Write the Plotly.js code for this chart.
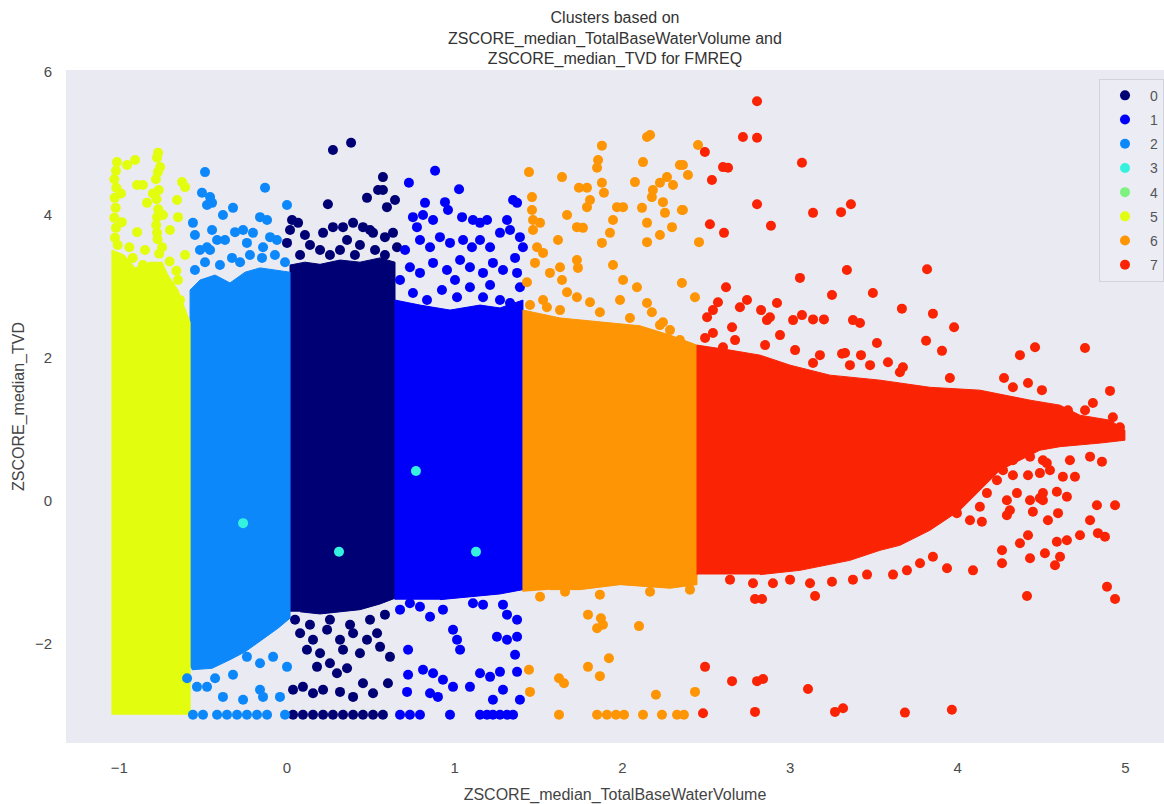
<!DOCTYPE html>
<html>
<head>
<meta charset="utf-8">
<script src="https://cdn.plot.ly/plotly-3.0.1.min.js"></script>
<style>
  html, body { margin: 0; padding: 0; background: #ffffff; }
  #chart { width: 1164px; height: 804px; }
</style>
</head>
<body>
<div id="chart"></div>
<script>
// Cluster labels and their colours
const clusterNames = ['0', '1', '2', '3', '4', '5', '6', '7'];
const clusterColors = ['#000075', '#0000fa', '#0c88fb', '#35f2df', '#7ef27e', '#e2fd0e', '#fd9505', '#fa2405'];

// Axis ticks
const xTicks = [-1, 0, 1, 2, 3, 4, 5];
const yTicks = [-2, 0, 2, 4, 6];

// Dense cores: outline of the region where points overlap into a solid mass
const core0x = [0.018, 0.018, 0.107, 0.197, 0.316, 0.435, 0.555, 0.644, 0.644, 0.555, 0.435, 0.316, 0.197, 0.078];
const core0y = [-1.55, 3.30, 3.34, 3.31, 3.37, 3.34, 3.40, 3.34, -1.36, -1.44, -1.52, -1.55, -1.58, -1.55];

const core1x = [0.644, 0.644, 0.793, 0.972, 1.151, 1.270, 1.407, 1.407, 1.270, 1.091, 0.912];
const core1y = [-1.38, 2.81, 2.74, 2.67, 2.74, 2.70, 2.81, -1.24, -1.30, -1.34, -1.38];

const core2x = [-0.578, -0.578, -0.519, -0.429, -0.340, -0.250, -0.161, -0.072, 0.018, 0.018, -0.054, -0.149, -0.250, -0.340, -0.447, -0.567];
const core2y = [-2.32, 2.95, 3.09, 3.16, 3.05, 3.20, 3.26, 3.23, 3.20, -1.64, -1.78, -1.94, -2.11, -2.22, -2.34, -2.36];

const core5x = [-1.044, -1.044, -0.972, -0.906, -0.817, -0.745, -0.710, -0.650, -0.578, -0.578];
const core5y = [-2.99, 3.51, 3.44, 3.26, 3.34, 3.34, 3.16, 2.95, 2.50, -2.99];

const core6x = [1.407, 1.407, 1.628, 1.866, 2.105, 2.284, 2.445, 2.445, 2.284, 1.986, 1.747, 1.568];
const core6y = [-1.27, 2.67, 2.56, 2.50, 2.45, 2.32, 2.18, -1.17, -1.22, -1.17, -1.24, -1.24];

const core7x = [2.445, 2.445, 2.642, 2.821, 3.000, 3.238, 3.536, 3.834, 4.132, 4.431, 4.610, 4.729, 4.908, 4.997,
                4.997, 4.848, 4.610, 4.490, 4.252, 4.132, 4.013, 3.834, 3.655, 3.536, 3.357, 3.059, 2.821];
const core7y = [-1.03, 2.18, 2.11, 2.04, 1.90, 1.76, 1.69, 1.59, 1.55, 1.41, 1.34, 1.20, 1.13, 0.99,
                0.85, 0.81, 0.76, 0.71, 0.43, 0.15, -0.13, -0.41, -0.62, -0.69, -0.83, -0.97, -1.03];

// Individual points outside the dense cores
const c0x = [0.274, 0.382, 0.244, 0.477, 0.543, 0.572, 0.596, 0.215, 0.274, 0.334,
             0.394, 0.453, 0.358, 0.495, 0.513, 0.644, 0.030, 0.066, 0.018, 0.000,
             0.632, 0.656, 0.572, 0.584, 0.137, 0.197, 0.435, 0.525, 0.316, 0.107,
             0.078, 0.256, 0.405, 0.584,
             0.078, 0.155, 0.239, 0.316, 0.394, 0.477, 0.537, 0.614, 0.119, 0.197,
             0.334, 0.435, 0.555, 0.179, 0.256, 0.298, 0.358, 0.036, 0.095, 0.155,
             0.215, 0.316, 0.394, 0.453, 0.513, 0.602, 0.048, 0.137, 0.256, 0.376,
             0.495, 0.584,
             0.036, 0.095, 0.155, 0.215, 0.274, 0.334, 0.394, 0.453, 0.513, 0.572];
const c0y = [4.91, 5.01, 4.15, 4.24, 4.35, 4.53, 4.11, 3.75, 3.83, 3.83,
             3.89, 3.83, 3.65, 3.79, 3.75, 4.21, 3.93, 3.89, 3.79, 3.61,
             3.75, 3.55, 4.35, 3.69, 3.58, 3.51, 3.58, 3.51, 3.51, 3.72,
             3.44, 3.44, 3.44, 3.44,
             -1.85, -1.94, -1.80, -1.94, -1.85, -1.94, -1.85, -2.18, -2.08, -2.13,
             -2.08, -2.13, -2.04, -2.32, -2.27, -2.41, -2.34, -2.64, -2.60, -2.69,
             -2.64, -2.67, -2.74, -2.55, -2.69, -2.55, -1.66, -1.73, -1.66, -1.73,
             -1.66, -1.59,
             -2.99, -2.99, -2.99, -2.99, -2.99, -2.99, -2.99, -2.99, -2.99, -2.99];

const c1x = [0.883, 0.727, 1.026, 0.823, 0.942, 0.960, 1.348, 1.372, 0.751, 0.811,
             0.871, 0.775, 1.044, 1.109, 1.151, 1.193, 1.312, 1.330, 1.389, 1.407,
             0.793, 0.853, 0.912, 0.972, 1.050, 1.103, 1.151, 1.211, 1.270, 0.733,
             0.793, 0.871, 0.954, 1.032, 1.091, 1.169, 1.228, 1.288, 1.372, 1.389,
             0.751, 0.835, 0.924, 1.014, 1.091, 1.169, 1.270, 1.330, 0.674, 1.002,
             1.211, 1.360, 0.704,
             0.674, 0.733, 0.793, 0.853, 0.930, 1.109, 1.169, 1.288, 1.312, 0.722,
             0.990, 1.014, 1.032, 1.252, 1.312, 1.372, 0.722, 0.811, 0.871, 0.930,
             0.990, 0.716, 0.853, 0.900, 1.091, 1.151, 1.211, 1.270, 1.288, 1.228,
             1.372, 1.389, 1.372, 1.360,
             0.674, 0.733, 0.793, 0.972, 1.151, 1.193, 1.228, 1.270, 1.312, 1.348];
const c1y = [4.62, 4.45, 4.36, 4.17, 4.18, 4.07, 4.21, 4.17, 3.97, 4.00,
             3.93, 3.83, 3.97, 3.93, 3.89, 3.93, 3.93, 3.79, 3.69, 3.55,
             3.65, 3.55, 3.69, 3.61, 3.65, 3.55, 3.65, 3.55, 3.75, 3.27,
             3.19, 3.33, 3.23, 3.37, 3.27, 3.19, 3.33, 3.23, 3.19, 2.99,
             2.91, 2.81, 2.95, 2.85, 2.99, 2.85, 2.81, 2.77, 3.09, 3.09,
             3.02, 3.40, 3.51,
             -1.52, -1.43, -1.48, -1.62, -1.52, -1.43, -1.45, -1.45, -1.59, -2.08,
             -1.80, -1.94, -2.08, -1.90, -1.94, -1.90, -2.43, -2.36, -2.41, -2.50,
             -2.60, -2.67, -2.69, -2.74, -2.60, -2.41, -2.46, -2.39, -2.64, -2.78,
             -2.39, -2.78, -1.66, -2.15,
             -2.99, -2.99, -2.99, -2.99, -2.99, -2.99, -2.99, -2.99, -2.99, -2.99];

const c2x = [-0.489, -0.507, -0.459, -0.477, -0.447, -0.561, -0.382, -0.322, -0.131, 0.000,
             -0.447, -0.417, -0.477, -0.519, -0.161, -0.119, -0.262, -0.203, -0.101, -0.239,
             -0.143, -0.060, -0.549, -0.370, -0.310, -0.549, -0.489, -0.400, -0.328, -0.221,
             -0.149, -0.072, -0.012, -0.280, -0.459,
             -0.596, -0.537, -0.477, -0.382, -0.262, -0.161, -0.143, -0.042, 0.000, -0.083,
             -0.161, -0.239, -0.322, -0.429,
             -0.561, -0.501, -0.417, -0.358, -0.298, -0.239, -0.179, -0.119, -0.012];
const c2y = [4.60, 4.31, 4.25, 4.14, 4.17, 3.89, 4.00, 4.10, 4.38, 4.14,
             3.79, 3.65, 3.55, 3.51, 3.97, 3.93, 3.79, 3.75, 3.69, 3.61,
             3.55, 3.65, 3.72, 3.65, 3.76, 3.23, 3.34, 3.30, 3.40, 3.44,
             3.40, 3.44, 3.34, 3.34, 3.51,
             -2.48, -2.60, -2.60, -2.74, -2.78, -2.64, -2.74, -2.74, -2.32, -2.18,
             -2.27, -2.18, -2.43, -2.48,
             -2.99, -2.99, -2.99, -2.99, -2.99, -2.99, -2.99, -2.99, -2.99];

const c3x = [-0.262, 0.310, 0.769, 1.127];
const c3y = [-0.31, -0.71, 0.42, -0.71];

// Cluster 4 has no points in view; it is listed in the legend only
const c4x = [null];
const c4y = [null];

const c5x = [-0.906, -0.954, -0.769, -0.757, -0.859, -0.626, -0.608, -0.656, -0.650, -0.894,
             -0.775, -0.745, -0.835, -0.775, -0.894, -0.650, -0.698, -0.847, -1.014, -0.608,
             -0.638,
             -1.020, -1.030, -1.018, -1.028, -1.022, -1.030, -1.020, -1.026, -1.010, -0.990,
             -0.985,
             -0.775, -0.770, -0.782, -0.765, -0.778, -0.768, -0.780, -0.772, -0.762, -0.800,
             -0.740,
             -0.940, -0.920, -0.700, -0.660, -0.860];
const c5y = [4.77, 4.70, 4.87, 4.67, 4.42, 4.46, 4.39, 4.21, 3.97, 3.76,
             3.75, 3.55, 4.17, 3.97, 4.42, 3.09, 3.79, 3.51, 4.74, 3.44,
             2.81,
             4.62, 4.50, 4.38, 4.24, 4.10, 3.96, 3.82, 3.68, 3.58, 4.30,
             3.90,
             4.80, 4.60, 4.50, 4.35, 4.22, 4.08, 3.86, 3.66, 3.46, 4.30,
             4.00,
             3.55, 3.40, 3.35, 3.22, 3.30];

const c6x = [1.443, 1.640, 1.878, 1.855, 1.849, 1.741, 1.789, 1.878, 1.890, 2.147,
             2.165, 2.123, 2.075, 2.182, 2.176, 2.224, 2.266, 2.302, 2.343, 2.391,
             2.451, 1.789, 1.807, 1.968, 2.004, 2.117, 2.242, 2.355, 1.670, 1.461,
             1.461, 1.467, 1.729, 1.765, 1.944, 2.147, 2.254, 2.296, 1.878, 1.926,
             2.147, 2.224, 2.457, 1.616, 1.467, 1.509, 1.491, 1.527, 1.479, 1.568,
             1.628, 1.640, 1.729, 1.735, 1.944, 2.004, 2.087, 2.355, 2.433, 1.431,
             1.527, 1.550, 1.670, 1.729, 1.807, 1.986, 2.147, 2.176, 2.242, 2.284,
             2.343, 2.361, 2.361, 1.449, 1.628, 1.866, 2.045, 2.224,
             1.658, 1.795, 1.872, 1.849, 1.884, 2.099, 1.920, 1.795, 1.866, 1.622,
             1.652, 1.443, 1.449, 2.200, 2.433, 1.509, 1.866, 2.165, 2.403,
             1.622, 1.849, 1.908, 1.962, 2.010, 2.123, 2.236, 2.326, 2.367];
const c6y = [4.60, 4.53, 4.97, 4.77, 4.66, 4.38, 4.38, 4.45, 4.31, 5.09,
             5.12, 4.74, 4.46, 4.35, 4.25, 4.45, 4.53, 4.42, 4.70, 4.56,
             4.98, 4.11, 4.21, 4.11, 4.11, 4.10, 4.18, 4.07, 4.00, 4.25,
             4.07, 3.93, 3.83, 3.82, 3.93, 3.89, 4.03, 3.83, 3.61, 3.75,
             3.62, 3.72, 3.62, 3.65, 3.79, 3.89, 3.55, 3.47, 3.33, 3.19,
             3.27, 3.09, 3.37, 3.26, 3.30, 3.09, 2.99, 3.05, 2.85, 3.06,
             2.81, 2.71, 2.92, 2.85, 2.78, 2.81, 2.77, 2.64, 2.50, 2.39,
             2.25, 4.70, 4.07, 2.74, 2.67, 2.64, 2.56, 2.46,
             -1.27, -1.59, -1.64, -1.78, -1.73, -1.75, -2.20, -2.32, -2.45, -2.48,
             -2.55, -2.36, -2.67, -2.71, -2.67, -1.34, -1.31, -1.27, -1.24,
             -2.99, -2.99, -2.99, -2.99, -2.99, -2.99, -2.99, -2.99, -2.99];

const c7x = [2.803, 2.719, 2.803, 3.071, 2.492, 2.600, 2.630, 2.534, 2.803, 3.137,
             3.304, 3.363, 2.522, 2.606, 2.886, 3.817, 3.339, 3.059, 3.250, 3.494,
             3.667, 3.852, 3.978, 2.618, 2.570, 2.540, 2.505, 2.701, 2.743, 2.922,
             2.827, 2.654, 2.540, 2.600, 2.862, 2.880, 2.940, 3.018, 3.071, 3.137,
             3.202, 3.375, 3.417, 3.811, 3.906, 4.371, 4.461, 4.759, 4.276, 4.908,
             3.310, 3.328, 3.423, 3.518, 3.477, 3.584, 3.673, 3.137,
             4.806, 4.759, 4.657, 4.925, 4.967, 4.669, 4.789, 4.860, 4.699, 4.830,
             4.938, 4.789, 4.729, 4.836, 4.878, 4.591, 4.651, 4.610, 4.580, 4.520,
             4.431, 4.371, 4.419, 4.264, 4.264, 4.091, 4.538, 4.598, 4.448, 4.293,
             4.311, 4.490, 4.508, 4.419, 4.329, 4.591, 4.651, 4.144, 3.936, 4.890,
             4.938, 4.413, 3.149, 2.791, 2.833, 4.329, 4.419, 4.502, 4.442, 4.478,
             4.591, 4.531, 4.490,
             2.642, 2.779, 2.898, 3.000, 3.119, 3.250, 3.375, 3.459, 3.614, 3.697,
             3.775, 3.852,
             3.936, 3.995, 4.073, 4.132, 4.174, 4.234, 4.293, 4.353, 4.431, 4.508,
             4.270, 4.329, 4.431, 4.508, 4.550, 4.627,
             2.493, 2.672, 2.851, 3.030, 3.178, 3.357, 3.655, 3.953,
             2.493, 2.654, 2.803, 2.839, 3.107, 2.481, 2.791, 3.268, 3.316, 3.685,
             3.965];
const c7y = [5.59, 5.09, 5.08, 4.73, 4.88, 4.67, 4.66, 4.49, 4.15, 4.03,
             4.04, 4.15, 3.87, 3.75, 3.85, 3.24, 3.23, 3.12, 2.88, 2.91,
             2.69, 2.62, 2.43, 2.99, 2.78, 2.67, 2.57, 2.71, 2.81, 2.77,
             2.67, 2.43, 2.35, 2.15, 2.53, 2.57, 2.32, 2.53, 2.60, 2.54,
             2.54, 2.53, 2.49, 2.24, 2.10, 2.04, 2.15, 2.14, 1.72, 1.54,
             2.06, 2.07, 2.04, 2.21, 1.90, 1.94, 1.87, 1.93,
             1.37, 1.27, 1.27, 1.17, 1.03, 0.57, 0.62, 0.55, 0.34, -0.06,
             -0.06, -0.27, -0.48, -0.45, -0.50, -0.57, -0.55, -0.78, -0.90, -0.73,
             -0.80, -0.59, -0.48, -0.69, -0.87, -0.97, -0.27, -0.17, -0.15, -0.20,
             -0.13, 0.04, 0.11, 0.36, 0.36, 0.13, 0.06, -0.29, -0.94, -1.20,
             -1.37, -1.33, -1.33, -1.37, -1.37, 1.59, 1.65, 1.55, 1.27, 1.13,
             1.06, 0.53, 0.39,
             -1.10, -1.15, -1.15, -1.10, -1.15, -1.13, -1.10, -1.03, -1.03, -0.97,
             -0.87, -0.78,
             0.01, -0.17, -0.27, -0.08, 0.11, 0.29, 0.01, 0.11, 0.01, 0.01,
             0.43, 0.57, 0.62, 0.57, 0.43, 0.34,
             2.28, 2.25, 2.18, 2.11, 2.04, 1.90, 1.80, 1.72,
             -2.32, -2.52, -2.52, -2.49, -2.63, -2.97, -2.95, -2.95, -2.90, -2.96,
             -2.92];

const pointsX = [c0x, c1x, c2x, c3x, c4x, c5x, c6x, c7x];
const pointsY = [c0y, c1y, c2y, c3y, c4y, c5y, c6y, c7y];
const coresX = {0: core0x, 1: core1x, 2: core2x, 5: core5x, 6: core6x, 7: core7x};
const coresY = {0: core0y, 1: core1y, 2: core2y, 5: core5y, 6: core6y, 7: core7y};

const traces = [];

// Solid masses first, so single points sit on top of them
Object.keys(coresX).forEach(function (k) {
  const i = Number(k);
  traces.push({
    type: 'scatter',
    mode: 'lines',
    x: coresX[k],
    y: coresY[k],
    fill: 'toself',
    fillcolor: clusterColors[i],
    line: { color: clusterColors[i], width: 1 },
    hoverinfo: 'skip',
    showlegend: false,
    legendgroup: 'g' + i
  });
});

clusterNames.forEach(function (name, i) {
  traces.push({
    type: 'scatter',
    mode: 'markers',
    name: name,
    x: pointsX[i],
    y: pointsY[i],
    marker: { size: 10, color: clusterColors[i], line: { width: 0 } },
    legendgroup: 'g' + i,
    showlegend: true
  });
});

const fontFamily = '"Liberation Sans", Arial, Helvetica, sans-serif';

const layout = {
  width: 1164,
  height: 804,
  margin: { l: 66, r: 0, t: 70, b: 61 },
  paper_bgcolor: '#ffffff',
  plot_bgcolor: '#eaeaf2',
  font: { family: fontFamily, color: '#4a4a4a', size: 15 },
  showlegend: true,
  title: {
    text: 'Clusters based on<br>ZSCORE_median_TotalBaseWaterVolume and<br>ZSCORE_median_TVD for FMREQ',
    font: { family: fontFamily, size: 16, color: '#333333' },
    x: 0.5, xref: 'paper', xanchor: 'center',
    y: 0.9716, yref: 'container', yanchor: 'top'
  },
  xaxis: {
    range: [-1.318, 5.23],
    tickvals: xTicks,
    showgrid: false, zeroline: false, showline: false,
    ticks: 'outside', ticklen: 11, tickcolor: 'rgba(0,0,0,0)',
    tickfont: { size: 15, color: '#4a4a4a' },
    title: { text: 'ZSCORE_median_TotalBaseWaterVolume', font: { size: 16, color: '#444444' } }
  },
  yaxis: {
    range: [-3.385, 6.028],
    tickvals: yTicks,
    showgrid: false, zeroline: false, showline: false,
    ticks: 'outside', ticklen: 10, tickcolor: 'rgba(0,0,0,0)',
    tickfont: { size: 15, color: '#4a4a4a' },
    title: { text: 'ZSCORE_median_TVD', font: { size: 16, color: '#444444' } }
  },
  legend: {
    x: 0.941, xanchor: 'left',
    y: 0.987, yanchor: 'top',
    bgcolor: 'rgba(236,236,244,0.9)',
    bordercolor: '#d2d2da',
    borderwidth: 1,
    font: { size: 14, color: '#555555' },
    tracegroupgap: 3,
    itemwidth: 40
  }
};

Plotly.newPlot('chart', traces, layout, { displayModeBar: false, responsive: false });
</script>
</body>
</html>
